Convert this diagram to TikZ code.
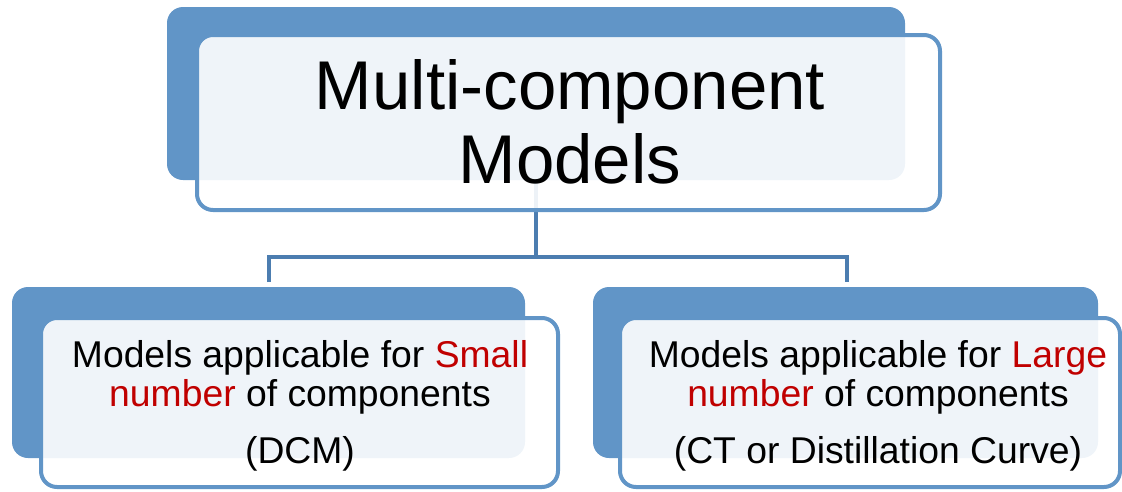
\documentclass[tikz,border=0pt]{standalone}
\usepackage{fontspec}
\setmainfont{Liberation Sans}
\definecolor{boxblue}{RGB}{97,149,199}
\definecolor{connblue}{RGB}{76,125,176}
\definecolor{hired}{RGB}{192,0,0}
\begin{document}
\begin{tikzpicture}[x=1pt,y=-1pt,
  backbox/.style={rectangle,rounded corners=16pt,fill=boxblue,draw=none,inner sep=0pt},
  frontbox/.style={rectangle,rounded corners=16pt,fill=white,fill opacity=0.9,draw=boxblue,draw opacity=1,line width=4pt,inner sep=0pt},
  conn/.style={draw=connblue,line width=4pt},
  bigtxt/.style={anchor=base,inner sep=0pt,font=\fontsize{69}{74}\selectfont},
  smalltxt/.style={anchor=base,inner sep=0pt,font=\fontsize{37.3}{40}\selectfont}]
\useasboundingbox (0,0) rectangle (1122,491);
% back boxes
\node[backbox,minimum width=738pt,minimum height=173pt] (tb) at (536,93.5) {};
\node[backbox,minimum width=513pt,minimum height=171pt] (lb) at (268.5,372.5) {};
\node[backbox,minimum width=505pt,minimum height=171pt] (rb) at (845.5,372.5) {};
% connectors
\coordinate (lend) at (269,282);
\coordinate (rend) at (847,282);
\coordinate (junc) at (536,257);
\draw[conn] (tb.south) -- (junc);
\draw[conn] (lend) -- (lend |- junc) -- (rend |- junc) -- (rend);
% front boxes
\node[frontbox,minimum width=743pt,minimum height=175pt] (tf) at (568.5,122.5) {};
\node[frontbox,minimum width=517pt,minimum height=169pt] (lf) at (299.5,402.5) {};
\node[frontbox,minimum width=500pt,minimum height=169pt] (rf) at (870,402.5) {};
% texts
\node[bigtxt] (t1) at (570,109) {Multi-component};
\node[bigtxt] (t2) at (570,183) {Models};
\node[smalltxt] (l1) at (300,367) {Models applicable for \textcolor{hired}{Small}};
\node[smalltxt] (l2) at (300,406) {\textcolor{hired}{number} of components};
\node[smalltxt] (l3) at (300,463) {(DCM)};
\node[smalltxt] (r1) at (878,367) {Models applicable for \textcolor{hired}{Large}};
\node[smalltxt] (r2) at (878,406) {\textcolor{hired}{number} of components};
\node[smalltxt] (r3) at (878,463) {(CT or Distillation Curve)};
\end{tikzpicture}
\end{document}
